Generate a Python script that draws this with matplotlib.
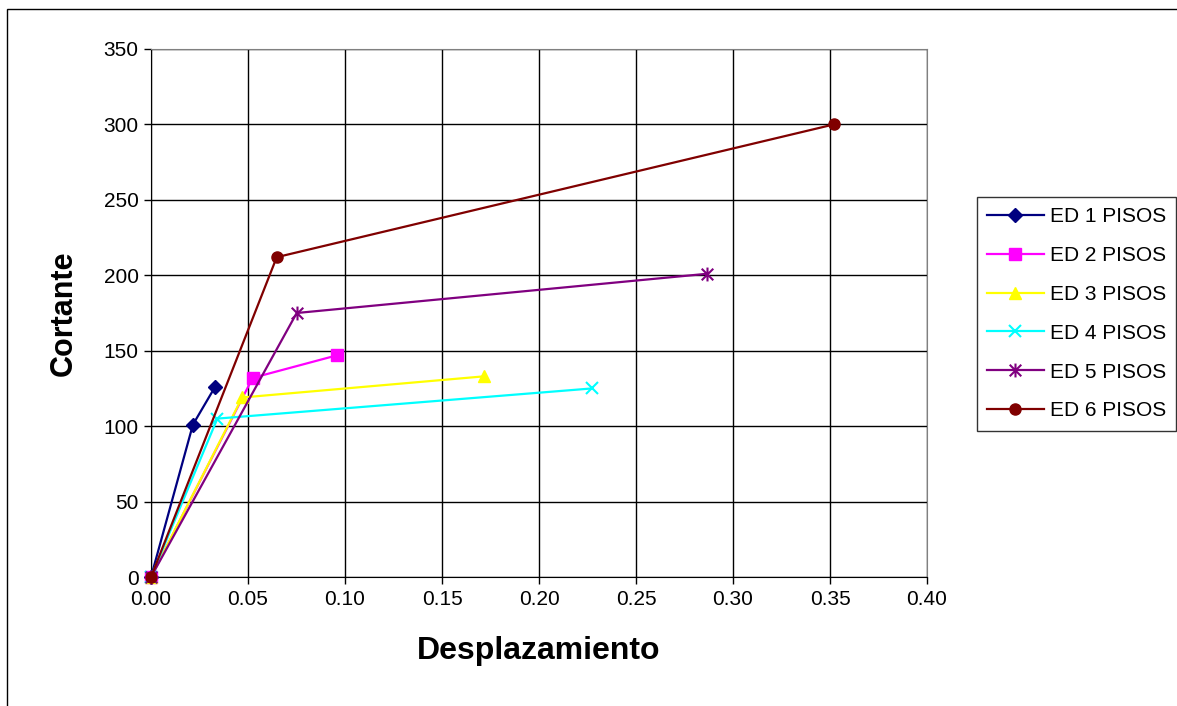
import matplotlib.pyplot as plt
from matplotlib.path import Path
from matplotlib.patches import Rectangle

plt.rcParams['font.family'] = ['Liberation Sans', 'DejaVu Sans']

# desplazamiento / cortante de cada edificio
labels = ['ED 1 PISOS', 'ED 2 PISOS', 'ED 3 PISOS', 'ED 4 PISOS', 'ED 5 PISOS', 'ED 6 PISOS']
ed1_x = [0.0, 0.0216, 0.0330]
ed1_y = [0, 101, 126]
ed2_x = [0.0, 0.0524, 0.0960]
ed2_y = [0, 132, 147]
ed3_x = [0.0, 0.0470, 0.1715]
ed3_y = [0, 119, 133]
ed4_x = [0.0, 0.0342, 0.2273]
ed4_y = [0, 105, 125]
ed5_x = [0.0, 0.0751, 0.2866]
ed5_y = [0, 175, 201]
ed6_x = [0.0, 0.0648, 0.3520]
ed6_y = [0, 212, 300]

xs = [ed1_x, ed2_x, ed3_x, ed4_x, ed5_x, ed6_x]
ys = [ed1_y, ed2_y, ed3_y, ed4_y, ed5_y, ed6_y]

# asterisco estilo excel: una x con una barra vertical
star = Path([(-1, -1), (1, 1), (-1, 1), (1, -1), (0, -1.2), (0, 1.2)],
            [Path.MOVETO, Path.LINETO, Path.MOVETO, Path.LINETO, Path.MOVETO, Path.LINETO])

colors = ['#000080', '#FF00FF', '#FFFF00', '#00FFFF', '#800080', '#800000']
markers = ['D', 's', '^', 'x', star, 'o']
msizes = [7, 8, 9, 9, 10, 8]

fig = plt.figure(figsize=(11.77, 7.06), dpi=100)
ax = fig.add_axes([0.1283, 0.1827, 0.6593, 0.7479])

for x, y, lab, c, m, ms in zip(xs, ys, labels, colors, markers, msizes):
    mew = 1.5 if m in ('x',) or m is star else 1
    ax.plot(x, y, color=c, lw=1.6, marker=m, markersize=ms, mfc=c, mec=c,
            mew=mew, label=lab, clip_on=False, zorder=3)

ax.set_xlim(0, 0.4)
ax.set_ylim(0, 350)
ax.set_xticks([i * 0.05 for i in range(9)])
ax.set_xticklabels(['%.2f' % (i * 0.05) for i in range(9)])
ax.set_yticks(range(0, 351, 50))
ax.grid(True, color='black', lw=1)
ax.set_axisbelow(True)
ax.tick_params(labelsize=15, length=5, width=1, direction='out', pad=4)
for s in ['top', 'right']:
    ax.spines[s].set_color('#808080')
for s in ['left', 'bottom']:
    ax.spines[s].set_color('black')

ax.set_xlabel('Desplazamiento', fontsize=23, fontweight='bold', labelpad=20)
ax.set_ylabel('Cortante', fontsize=22, fontweight='bold', labelpad=18)

leg = ax.legend(loc='upper left', bbox_to_anchor=(0.830, 0.721),
                bbox_transform=fig.transFigure, fontsize=15, frameon=True,
                fancybox=False, edgecolor='black', borderpad=0.5,
                labelspacing=0.95, handlelength=2.7, handletextpad=0.3,
                borderaxespad=0)
leg.get_frame().set_linewidth(1)

# borde exterior del grafico
fig.patches.append(Rectangle((0.006, -0.01), 1.1, 0.997, transform=fig.transFigure,
                             fill=False, edgecolor='black', lw=1))

fig.savefig('out.png', dpi=100)
